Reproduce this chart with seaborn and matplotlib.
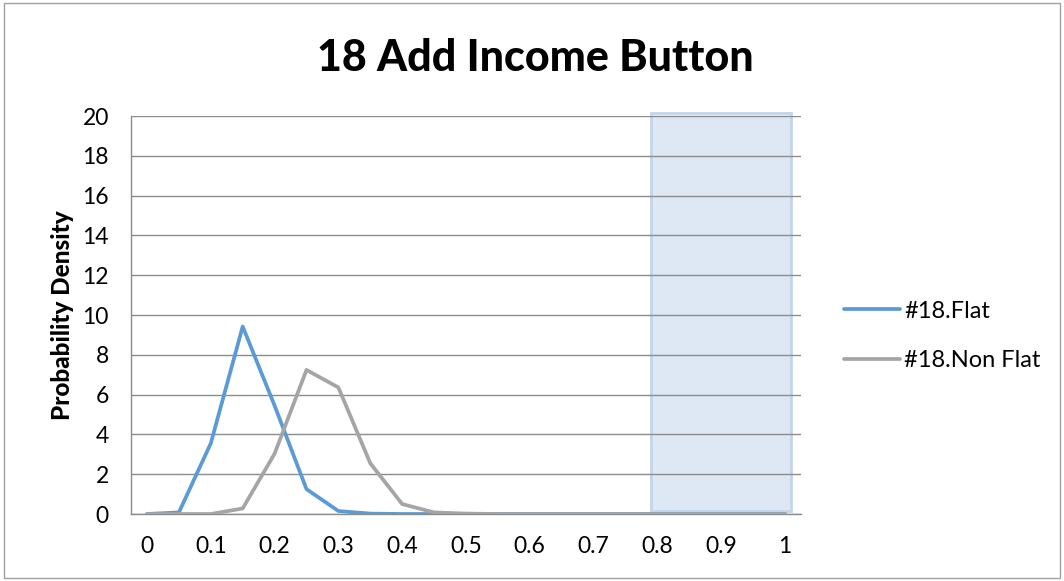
import matplotlib
matplotlib.use("Agg")
import matplotlib.pyplot as plt
from matplotlib.patches import Rectangle
import seaborn as sns
import pandas as pd

# Probability grid (0 to 1 in steps of 0.05)
x_values = [0.0, 0.05, 0.1, 0.15, 0.2, 0.25, 0.3, 0.35, 0.4, 0.45, 0.5,
            0.55, 0.6, 0.65, 0.7, 0.75, 0.8, 0.85, 0.9, 0.95, 1.0]
flat_density = [0.0, 0.08, 3.55, 9.42, 5.45, 1.25, 0.15, 0.02, 0.0, 0.0, 0.0,
                0.0, 0.0, 0.0, 0.0, 0.0, 0.0, 0.0, 0.0, 0.0, 0.0]
nonflat_density = [0.0, 0.0, 0.0, 0.28, 3.03, 7.24, 6.36, 2.55, 0.5, 0.08, 0.02,
                   0.0, 0.0, 0.0, 0.0, 0.0, 0.0, 0.0, 0.0, 0.0, 0.0]
series_names = ["#18.Flat", "#18.Non Flat"]
series_colors = ["#5B9BD5", "#A5A5A5"]
x_ticks = [0, 0.1, 0.2, 0.3, 0.4, 0.5, 0.6, 0.7, 0.8, 0.9, 1]
x_tick_labels = ["0", "0.1", "0.2", "0.3", "0.4", "0.5", "0.6", "0.7", "0.8", "0.9", "1"]
y_ticks = [0, 2, 4, 6, 8, 10, 12, 14, 16, 18, 20]

df = pd.concat([
    pd.DataFrame({"x": x_values, "density": flat_density, "series": series_names[0]}),
    pd.DataFrame({"x": x_values, "density": nonflat_density, "series": series_names[1]}),
])

sns.set_theme(style="white")
plt.rcParams["font.family"] = ["Lato", "DejaVu Sans"]
plt.rcParams["text.color"] = "black"

fig = plt.figure(figsize=(10.64, 5.81), dpi=100)
ax = fig.add_axes([0.1231, 0.1153, 0.6297, 0.685])

# Highlighted region on the right
ax.add_patch(Rectangle((0.79, 0.15), 0.22, 20.0, facecolor="#DDE8F4",
                       edgecolor="#C2D5EA", linewidth=2.0, zorder=0.5,
                       clip_on=False))

sns.lineplot(data=df, x="x", y="density", hue="series",
             palette=dict(zip(series_names, series_colors)),
             linewidth=2.7, ax=ax, zorder=3)

ax.set_xlim(-0.0251, 1.0251)
ax.set_ylim(0, 20)
ax.set_xticks(x_ticks)
ax.set_xticklabels(x_tick_labels)
ax.set_yticks(y_ticks)
ax.tick_params(axis="both", labelsize=16.5, colors="black", length=0)
ax.tick_params(axis="y", pad=16)
ax.tick_params(axis="x", pad=16)
ax.yaxis.grid(True, color="#8C8C8C", linewidth=1.0, zorder=1)
ax.set_axisbelow(False)
for line in ax.get_ygridlines():
    line.set_zorder(1)

for side in ["top", "right"]:
    ax.spines[side].set_visible(False)
for side in ["left", "bottom"]:
    ax.spines[side].set_color("#8C8C8C")
    ax.spines[side].set_linewidth(1.0)

ax.set_xlabel("")
ax.set_ylabel("Probability Density", fontsize=17.5, fontweight="black",
              color="black", labelpad=6)

fig.text(0.503, 0.9, "18 Add Income Button", ha="center", va="center",
         fontsize=31, fontweight="black", color="black")

leg = ax.legend(loc="center left", bbox_to_anchor=(1.032, 0.448), frameon=False,
                fontsize=17, handlelength=2.4, handletextpad=0.15,
                labelspacing=1.2, title=None)
for t in leg.get_texts():
    t.set_color("black")

# Outer chart border
fig.patches.append(Rectangle((0.004, 0.006), 0.992, 0.988, transform=fig.transFigure,
                             fill=False, edgecolor="#A0A0A0", linewidth=1.0))

fig.savefig("out.png", dpi=100)
